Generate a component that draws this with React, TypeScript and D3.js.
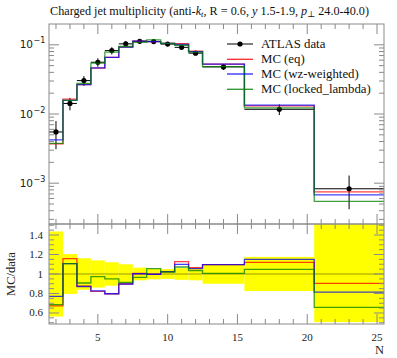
import React from 'react';
import * as d3 from 'd3';

const binEdges = [1.5, 2.5, 3.5, 4.5, 5.5, 6.5, 7.5, 8.5, 9.5, 10.5, 11.5, 12.5, 15.5, 20.5, 25.5];
const dataX = [2, 3, 4, 5, 6, 7, 8, 9, 10, 11, 12, 14, 18, 23];
const dataY = [5.5e-3, 1.42e-2, 3.04e-2, 5.6e-2, 8.25e-2, 0.1033, 0.1125, 0.1115, 0.1025, 0.092, 0.0758, 0.048, 0.0117, 8.3e-4];
const dataErrUp = [2.4e-3, 2.9e-3, 4.9e-3, 7.8e-3, 9.9e-3, 1.03e-2, 7.3e-3, 6.1e-3, 5.1e-3, 5.5e-3, 4.9e-3, 4.8e-3, 2.05e-3, 4.6e-4];
const dataErrDn = [2.4e-3, 2.9e-3, 4.9e-3, 7.8e-3, 9.9e-3, 1.03e-2, 7.3e-3, 6.1e-3, 5.1e-3, 5.5e-3, 4.9e-3, 4.8e-3, 2.05e-3, 4.1e-4];
const mcEq = [3.7e-3, 1.643e-2, 2.66e-2, 4.6e-2, 6.58e-2, 9.27e-2, 0.1131, 0.1112, 0.1051, 0.1036, 0.0807, 0.0526, 0.0131, 7.5e-4];
const mcWz = [4.24e-3, 1.571e-2, 2.65e-2, 4.63e-2, 6.58e-2, 9.27e-2, 0.1128, 0.1112, 0.1051, 0.1011, 0.08, 0.0526, 0.01346, 6.76e-4];
const mcLocked = [3.77e-3, 1.571e-2, 2.76e-2, 5.45e-2, 7.83e-2, 9.45e-2, 0.1087, 0.1176, 0.1046, 0.0986, 0.0784, 0.0483, 0.01226, 5.46e-4];
const xTicks = [5, 10, 15, 20, 25];
const ratioTicks = [0.6, 0.8, 1, 1.2, 1.4];
const mainDecades = [-1, -2, -3];
const seriesNames = ['MC (eq)', 'MC (wz-weighted)', 'MC (locked_lambda)'];
const seriesColors = ['#ff0000', '#0000ff', '#008000'];

const L = 49, R = 384, MT = 24, MB = 224, RT = 224, RB = 324;
const AX = '#8a8a8a';
const FONT = '"Liberation Serif", "DejaVu Serif", serif';

export default function App() {
  const x = d3.scaleLinear().domain([1.5, 25.5]).range([L, R]);
  const yM = d3.scaleLog().domain([2.57e-4, 0.2]).range([MB, MT]);
  const yR = d3.scaleLinear().domain([0.487, 1.513]).range([RB, RT]);
  const series = [mcEq, mcWz, mcLocked];

  const stepPts = (vals: number[], f: (v: number, i: number) => number) => {
    const pts: [number, number][] = [];
    vals.forEach((v, i) => {
      pts.push([x(binEdges[i]), f(v, i)]);
      pts.push([x(binEdges[i + 1]), f(v, i)]);
    });
    return d3.line()(pts) || '';
  };

  const minorX = d3.range(2, 26).filter((n) => !xTicks.includes(n));
  const minorYMain: number[] = [];
  for (let k = -4; k <= -1; k++) for (let m = 2; m <= 9; m++) {
    const v = m * Math.pow(10, k);
    if (v > 2.57e-4 && v < 0.2) minorYMain.push(v);
  }
  const minorYR = d3.range(10, 31).map((i) => i * 0.05).filter((v) => v > 0.487 && v < 1.513 && !ratioTicks.some((t) => Math.abs(t - v) < 1e-6));

  const legendRows = [44, 59.3, 74, 89.3];

  return (
    <svg width={397} height={358} style={{ position: 'absolute', left: 0, top: 0, background: '#fff' }} fontFamily={FONT}>
      <defs>
        <clipPath id="cm"><rect x={L} y={MT} width={R - L} height={MB - MT} /></clipPath>
        <clipPath id="cr"><rect x={L} y={RT} width={R - L} height={RB - RT} /></clipPath>
      </defs>
      {/* Title */}
      <text x={50} y={14.5} fontSize={12.2} fill="#111">
        Charged jet multiplicity (anti-<tspan fontStyle="italic">k</tspan><tspan fontStyle="italic" fontSize={8.5} dy={2}>t</tspan><tspan dy={-2}>, R = 0.6, </tspan><tspan fontStyle="italic">y</tspan> 1.5-1.9, <tspan fontStyle="italic">p</tspan><tspan fontSize={8.5} dy={2}>⊥</tspan><tspan dy={-2}> 24.0-40.0)</tspan>
      </text>

      {/* Main plot */}
      <g clipPath="url(#cm)">
        {dataX.map((d, i) => (
          <g key={'d' + i} stroke="#000" strokeWidth={1}>
            <line x1={x(binEdges[i])} x2={x(binEdges[i + 1])} y1={yM(dataY[i])} y2={yM(dataY[i])} />
            <line x1={x(d)} x2={x(d)} y1={yM(dataY[i] + dataErrUp[i])} y2={yM(Math.max(dataY[i] - dataErrDn[i], 1e-6))} />
            <circle cx={x(d)} cy={yM(dataY[i])} r={2.6} fill="#000" stroke="none" />
          </g>
        ))}
        {series.map((s, j) => (
          <path key={'m' + j} d={stepPts(s, (v) => yM(v))} fill="none" stroke={seriesColors[j]} strokeWidth={1.3} strokeOpacity={0.75} />
        ))}
      </g>

      {/* Ratio plot */}
      <g clipPath="url(#cr)">
        {dataX.map((d, i) => (
          <rect key={'b' + i} x={x(binEdges[i])} width={x(binEdges[i + 1]) - x(binEdges[i])}
            y={yR(1 + dataErrUp[i] / dataY[i])} height={yR(1 - dataErrDn[i] / dataY[i]) - yR(1 + dataErrUp[i] / dataY[i])} fill="#ffff00" />
        ))}
        <line x1={L} x2={R} y1={yR(1)} y2={yR(1)} stroke="#000" strokeOpacity={0.4} strokeWidth={1} />
        {series.map((s, j) => (
          <path key={'r' + j} d={stepPts(s, (v, i) => yR(v / dataY[i]))} fill="none" stroke={seriesColors[j]} strokeWidth={1.3} strokeOpacity={0.75} />
        ))}
      </g>

      {/* Frames */}
      <rect x={L} y={MT} width={R - L} height={MB - MT} fill="none" stroke={AX} strokeWidth={1} />
      <rect x={L} y={RT} width={R - L} height={RB - RT} fill="none" stroke={AX} strokeWidth={1} />

      {/* Ticks */}
      <g stroke={AX} strokeWidth={1}>
        {xTicks.map((t) => (
          <g key={'xt' + t}>
            <line x1={x(t)} x2={x(t)} y1={MT} y2={MT + 10} />
            <line x1={x(t)} x2={x(t)} y1={MB} y2={MB - 10} />
            <line x1={x(t)} x2={x(t)} y1={RT} y2={RT + 10} />
            <line x1={x(t)} x2={x(t)} y1={RB} y2={RB - 10} />
          </g>
        ))}
        {minorX.map((t) => (
          <g key={'xm' + t}>
            <line x1={x(t)} x2={x(t)} y1={MT} y2={MT + 5} />
            <line x1={x(t)} x2={x(t)} y1={MB} y2={MB - 5} />
            <line x1={x(t)} x2={x(t)} y1={RT} y2={RT + 5} />
            <line x1={x(t)} x2={x(t)} y1={RB} y2={RB - 5} />
          </g>
        ))}
        {mainDecades.map((k) => (
          <g key={'yd' + k}>
            <line x1={L} x2={L + 10} y1={yM(Math.pow(10, k))} y2={yM(Math.pow(10, k))} />
            <line x1={R} x2={R - 10} y1={yM(Math.pow(10, k))} y2={yM(Math.pow(10, k))} />
          </g>
        ))}
        {minorYMain.map((v, i) => (
          <g key={'ym' + i}>
            <line x1={L} x2={L + 5} y1={yM(v)} y2={yM(v)} />
            <line x1={R} x2={R - 5} y1={yM(v)} y2={yM(v)} />
          </g>
        ))}
        {ratioTicks.map((t) => (
          <g key={'rt' + t}>
            <line x1={L} x2={L + 10} y1={yR(t)} y2={yR(t)} />
            <line x1={R} x2={R - 10} y1={yR(t)} y2={yR(t)} />
          </g>
        ))}
        {minorYR.map((v, i) => (
          <g key={'rm' + i}>
            <line x1={L} x2={L + 5} y1={yR(v)} y2={yR(v)} />
            <line x1={R} x2={R - 5} y1={yR(v)} y2={yR(v)} />
          </g>
        ))}
      </g>

      {/* Tick labels */}
      {mainDecades.map((k) => (
        <text key={'ydl' + k} x={33} y={yM(Math.pow(10, k)) + 3.5} fontSize={10.5} textAnchor="end" fill="#222" fontFamily='"DejaVu Sans", sans-serif'>
          10
        </text>
      ))}
      {mainDecades.map((k) => (
        <text key={'yds' + k} x={33.5} y={yM(Math.pow(10, k)) - 1.5} fontSize={8} fill="#222" fontFamily='"DejaVu Sans", sans-serif'>
          {'\u2212' + (-k)}
        </text>
      ))}
      {ratioTicks.map((t) => (
        <text key={'rtl' + t} x={43} y={yR(t) + 3.5} fontSize={11} textAnchor="end" fill="#222">
          {d3.format('~g')(t)}
        </text>
      ))}
      {xTicks.map((t) => (
        <text key={'xtl' + t} x={x(t)} y={341} fontSize={11} textAnchor="middle" fill="#222">
          {t}
        </text>
      ))}
      <text x={R} y={354} fontSize={12.5} textAnchor="end" fill="#222">N</text>
      <text transform={`translate(15,${yR(1)}) rotate(-90)`} fontSize={12.5} textAnchor="middle" fill="#222">MC/data</text>

      {/* Legend */}
      <g>
        <line x1={227} x2={253} y1={legendRows[0]} y2={legendRows[0]} stroke="#000" strokeWidth={1} />
        <circle cx={240} cy={legendRows[0]} r={2.6} fill="#000" />
        <text x={261} y={legendRows[0] + 4} fontSize={12.8} fill="#111">ATLAS data</text>
        {seriesNames.map((n, j) => (
          <g key={'lg' + j}>
            <line x1={227} x2={253} y1={legendRows[j + 1]} y2={legendRows[j + 1]} stroke={seriesColors[j]} strokeWidth={1.3} strokeOpacity={0.85} />
            <text x={261} y={legendRows[j + 1] + 4} fontSize={12.8} fill="#111">{n}</text>
          </g>
        ))}
      </g>
    </svg>
  );
}
